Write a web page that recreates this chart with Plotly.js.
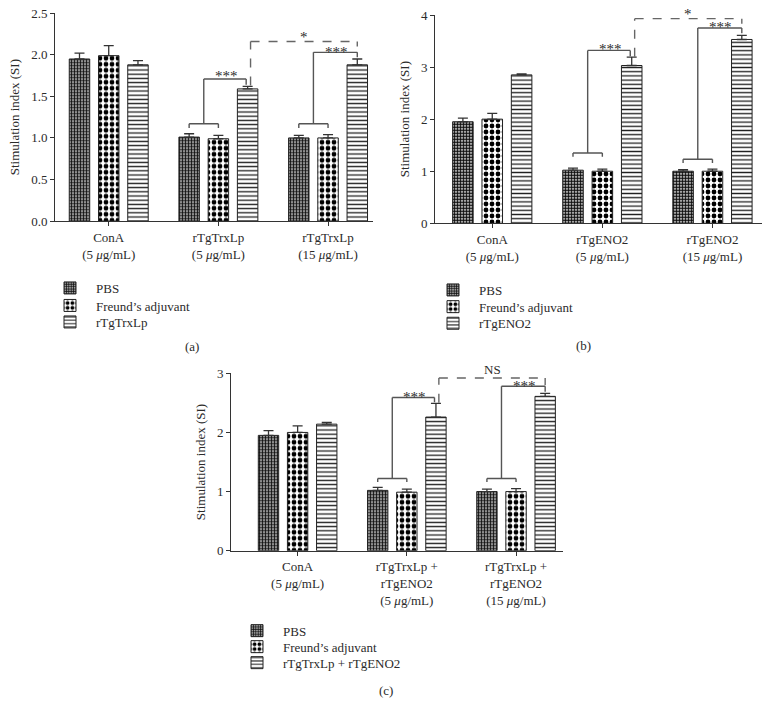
<!DOCTYPE html>
<html><head><meta charset="utf-8">
<script src="https://cdn.plot.ly/plotly-3.0.1.min.js"></script>
<style>html,body{margin:0;padding:0;background:#fff}</style>
</head><body><div id="chart" style="width:776px;height:715px"></div>
<script>
// ---------- data ----------
const seriesNamesA = ["PBS", "Freund\u2019s adjuvant", "rTgTrxLp"];
const seriesNamesB = ["PBS", "Freund\u2019s adjuvant", "rTgENO2"];
const seriesNamesC = ["PBS", "Freund\u2019s adjuvant", "rTgTrxLp + rTgENO2"];

const groupsA = ["ConA<br>(5 <i>\u03bc</i>g/mL)", "rTgTrxLp<br>(5 <i>\u03bc</i>g/mL)", "rTgTrxLp<br>(15 <i>\u03bc</i>g/mL)"];
const groupsB = ["ConA<br>(5 <i>\u03bc</i>g/mL)", "rTgENO2<br>(5 <i>\u03bc</i>g/mL)", "rTgENO2<br>(15 <i>\u03bc</i>g/mL)"];
const groupsC = ["ConA<br>(5 <i>\u03bc</i>g/mL)", "rTgTrxLp +<br>rTgENO2<br>(5 <i>\u03bc</i>g/mL)", "rTgTrxLp +<br>rTgENO2<br>(15 <i>\u03bc</i>g/mL)"];

const pbsA = [1.95, 1.01, 1.00];
const pbsErrA = [0.07, 0.04, 0.03];
const freundA = [1.99, 0.99, 1.00];
const freundErrA = [0.12, 0.04, 0.04];
const antigenA = [1.88, 1.59, 1.88];
const antigenErrA = [0.05, 0.03, 0.07];

const pbsB = [1.95, 1.02, 1.00];
const pbsErrB = [0.07, 0.04, 0.03];
const freundB = [2.00, 1.00, 1.00];
const freundErrB = [0.11, 0.04, 0.04];
const antigenB = [2.85, 3.03, 3.53];
const antigenErrB = [0.02, 0.16, 0.08];

const pbsC = [1.95, 1.02, 1.00];
const pbsErrC = [0.08, 0.05, 0.04];
const freundC = [2.00, 0.99, 1.00];
const freundErrC = [0.11, 0.05, 0.05];
const antigenC = [2.14, 2.26, 2.61];
const antigenErrC = [0.03, 0.23, 0.05];

const yTicksA = [0, 0.5, 1.0, 1.5, 2.0, 2.5];
const yTicksB = [0, 1, 2, 3, 4];
const yTicksC = [0, 1, 2, 3];

// ---------- styling / layout ----------
const FONT = "Liberation Serif, Times New Roman, serif";
const TXT = "#2b2b2b";
const BARGAP = 0.2;
const SLOT = (1 - BARGAP) / 3;
const W = 776, H = 715;
const px = v => v / W;
const py = v => 1 - v / H;

const patterns = [
  {shape: ".", size: 3, solidity: 0.66, fgcolor: "#111", bgcolor: "#fff"},
  {shape: ".", size: 6, solidity: 0.5, fgcolor: "#000", bgcolor: "#fff"},
  {shape: "-", size: 4.2, solidity: 0.32, fgcolor: "#222", bgcolor: "#fff"}
];

const panels = [
  {ax: "", names: seriesNamesA, groups: groupsA,
   vals: [pbsA, freundA, antigenA], errs: [pbsErrA, freundErrA, antigenErrA],
   ticks: yTicksA, fmt: ".1f",
   xdom: [px(55), px(373)], ydom: [py(221), py(13.3)], xr: [-0.49, 2.41],
   sig: {bracket: [1.17, 1.17], drop: 0.05, top: [1.71, 2.03], topEnd: [1.64, 1.97],
         dash: 2.16, dashStart: 1.63, dashEnd: 2.10, starY: [1.74, 2.04], label: "*", labelY: 2.22},
   leg: {x: 44, rows: [288, 305.5, 322]}, cap: {t: "(a)", x: 192, y: 347}},
  {ax: "2", names: seriesNamesB, groups: groupsB,
   vals: [pbsB, freundB, antigenB], errs: [pbsErrB, freundErrB, antigenErrB],
   ticks: yTicksB, fmt: "d",
   xdom: [px(435), px(762)], ydom: [py(223.3), py(15)], xr: [-0.52, 2.45],
   sig: {bracket: [1.35, 1.23], drop: 0.07, top: [3.32, 3.75], topEnd: [3.21, 3.65],
         dash: 3.93, dashStart: 3.2, dashEnd: 3.83, starY: [3.35, 3.77], label: "*", labelY: 4.02},
   leg: {x: 427, rows: [290, 306.7, 323.3]}, cap: {t: "(b)", x: 583, y: 346}},
  {ax: "3", names: seriesNamesC, groups: groupsC,
   vals: [pbsC, freundC, antigenC], errs: [pbsErrC, freundErrC, antigenErrC],
   ticks: yTicksC, fmt: "d",
   xdom: [px(231), px(563)], ydom: [py(550.7), py(373.3)], xr: [-0.61, 2.43],
   sig: {bracket: [1.22, 1.22], drop: 0.06, top: [2.59, 2.78], topEnd: [2.51, 2.69],
         dash: 2.92, dashStart: 2.5, dashEnd: 2.80, starY: [2.60, 2.79], label: "NS", labelY: 3.06},
   leg: {x: 231, rows: [630.7, 646.7, 662.7]}, cap: {t: "(c)", x: 386, y: 690}}
];

const data = [];
const shapes = [];
const annotations = [];
const layout = {
  width: W, height: H, margin: {l: 0, r: 0, t: 0, b: 0},
  paper_bgcolor: "#fff", plot_bgcolor: "#fff",
  font: {family: FONT, size: 13, color: TXT},
  barmode: "group", bargap: BARGAP, bargroupgap: 0.3,
  showlegend: true
};

function line(xr, yr, x0, y0, x1, y1, dash) {
  shapes.push({type: "line", xref: xr, yref: yr, x0, y0, x1, y1,
    line: {color: dash ? "#666" : "#555", width: 1.4, dash: dash ? "dash" : "solid"}});
}

let legendCount = 0;
panels.forEach(p => {
  const xa = "x" + p.ax, ya = "y" + p.ax;
  const idx = p.groups.map((g, i) => i);
  const ymax = p.ticks[p.ticks.length - 1];
  for (let s = 0; s < 3; s++) {
    legendCount++;
    const lg = legendCount === 1 ? "legend" : "legend" + legendCount;
    data.push({
      type: "bar", name: p.names[s], x: idx, y: p.vals[s],
      xaxis: xa, yaxis: ya, legend: lg,
      marker: {color: "#fff", line: {color: "#222", width: 1}, pattern: patterns[s]},
      error_y: {type: "data", symmetric: false, array: p.errs[s], arrayminus: p.errs[s].map(() => 0),
                color: "#333", thickness: 1.3, width: 5}
    });
    layout[lg] = {x: px(p.leg.x), y: py(p.leg.rows[s]), xanchor: "left", yanchor: "middle",
      bgcolor: "rgba(0,0,0,0)", font: {family: FONT, size: 13, color: TXT},
      itemclick: false, borderwidth: 0, itemwidth: 42};
  }
  const axisBase = {showline: true, linecolor: "#333", linewidth: 1, ticks: "outside",
    ticklen: 4, tickcolor: "#333", showgrid: false, zeroline: false,
    tickfont: {family: FONT, size: 13, color: TXT}};
  layout["xaxis" + p.ax] = Object.assign({}, axisBase, {
    domain: p.xdom, range: p.xr, tickvals: idx, ticktext: p.groups, anchor: ya, fixedrange: true});
  layout["yaxis" + p.ax] = Object.assign({}, axisBase, {
    domain: p.ydom, range: [0, ymax], tickvals: p.ticks, tickformat: p.fmt,
    anchor: xa, title: {text: "Stimulation index (SI)", font: {family: FONT, size: 13, color: TXT}, standoff: 8}});

  // significance brackets for groups 1 and 2
  const g = p.sig;
  [1, 2].forEach((gi, k) => {
    const xl = gi - SLOT, xm = gi, xc = gi - SLOT / 2, xt = gi + SLOT * (gi === 1 ? 0.95 : 1.0);
    line(xa, ya, xl, g.bracket[k] - g.drop, xl, g.bracket[k]);
    line(xa, ya, xl, g.bracket[k], xm, g.bracket[k]);
    line(xa, ya, xm, g.bracket[k], xm, g.bracket[k] - g.drop);
    line(xa, ya, xc, g.bracket[k], xc, g.top[k]);
    line(xa, ya, xc, g.top[k], xt, g.top[k]);
    line(xa, ya, xt, g.top[k], xt, g.topEnd[k]);
    annotations.push({xref: xa, yref: ya, x: (xc + xt) / 2 + 0.01, y: g.starY[k], text: "***",
      showarrow: false, font: {family: FONT, size: 15, color: TXT}, yanchor: "middle"});
  });
  const xs = 1 + SLOT * 1.1, xe = 2 + SLOT;
  line(xa, ya, xs, g.dashStart, xs, g.dash, true);
  line(xa, ya, xs, g.dash, xe, g.dash, true);
  line(xa, ya, xe, g.dash, xe, g.dashEnd, true);
  // label above the dashed bracket may sit above the axis range -> place in paper y
  const labelPaperY = p.ydom[0] + (g.labelY / ymax) * (p.ydom[1] - p.ydom[0]);
  annotations.push({xref: xa, yref: "paper", x: (xs + xe) / 2, y: labelPaperY, text: g.label,
    showarrow: false, font: {family: FONT, size: g.label === "*" ? 15 : 13, color: TXT}, yanchor: "middle"});
  annotations.push({xref: "paper", yref: "paper", x: px(p.cap.x), y: py(p.cap.y), text: p.cap.t,
    showarrow: false, font: {family: FONT, size: 13, color: TXT}, xanchor: "center", yanchor: "middle"});
});

layout.shapes = shapes;
layout.annotations = annotations;
Plotly.newPlot("chart", data, layout, {displayModeBar: false, staticPlot: true});
</script>
</body></html>
